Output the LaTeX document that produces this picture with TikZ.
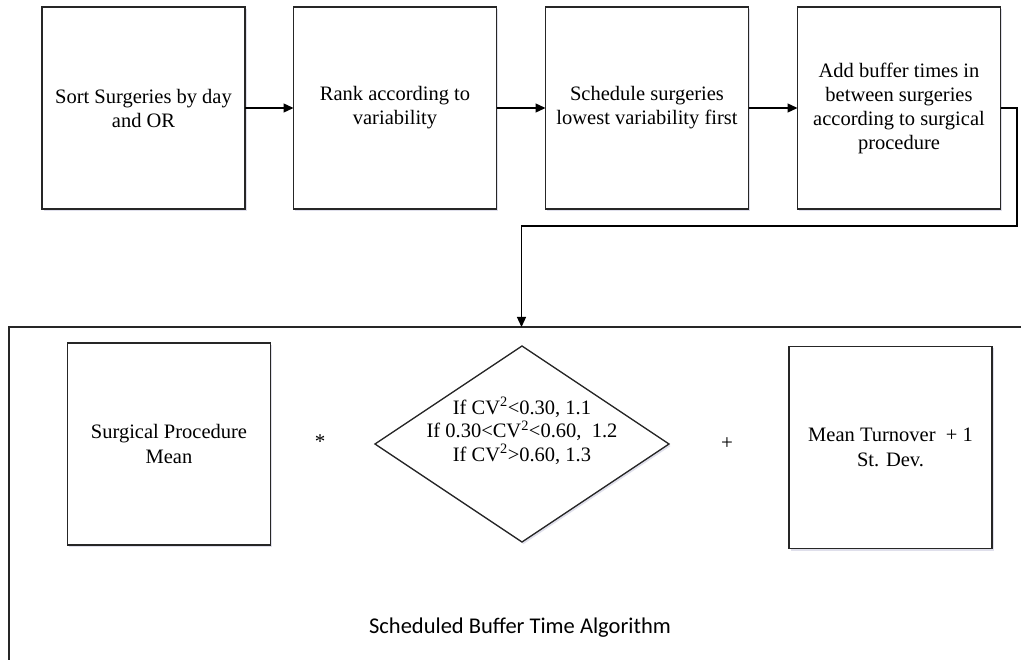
\documentclass[tikz,border=0pt]{standalone}
\usepackage{fontspec}
\setmainfont{Liberation Serif}
\newfontfamily\calib{Carlito}
\usetikzlibrary{shapes.geometric,arrows.meta,shadows}
\begin{document}
\begin{tikzpicture}[x=1pt,y=-1pt,
  every node/.style={inner sep=0pt,outer sep=0pt},
  boxsh/.style={drop shadow={shadow xshift=1.5pt,shadow yshift=-2pt,fill=blue!25!gray,opacity=0.2}},
  stepbox/.style={draw=black!85,line width=1.3pt,fill=white,minimum width=203pt,minimum height=202pt,align=center,font=\fontsize{20.5}{24}\selectfont,boxsh},
  smallbox/.style={draw=black!85,line width=1.3pt,fill=white,minimum width=203pt,minimum height=202pt,align=center,font=\fontsize{20.5}{25.5}\selectfont,boxsh},
  conn/.style={line width=1.3pt,-{Triangle[length=10pt,width=9pt]}},
  optxt/.style={font=\fontsize{21}{24}\selectfont}
]
\useasboundingbox (0,0) rectangle (1021,660);
\fill[white] (0,0) rectangle (1021,660);
\begin{scope}
\clip (0,0) rectangle (1021,660);
\node[draw=black!85,line width=1.3pt,minimum width=1040pt,minimum height=360pt,anchor=north west] (alg) at (9,327) {};
\end{scope}

\node[stepbox] (b1) at (143.5,108) {Sort Surgeries by day\\and OR};
\node[stepbox] (b2) at (395,108) {Rank according to\\variability};
\node[stepbox] (b3) at (647,108) {Schedule surgeries\\lowest variability first};
\node[stepbox] (b4) at (899,108) {Add buffer times in\\between surgeries\\according to surgical\\procedure};

\draw[conn] (b1) -- (b2);
\draw[conn] (b2) -- (b3);
\draw[conn] (b3) -- (b4);
\coordinate (turn) at (1017,226);
\coordinate (entry) at (521.5,327);
\draw[conn] (b4.east) -| (turn) -| (entry);

\node[smallbox] (mean) at (169,444) {Surgical Procedure\\Mean};
\node[optxt] (times) at (320,442) {*};
\node[draw=black!85,line width=1.3pt,fill=white,diamond,minimum width=294pt,minimum height=196pt,boxsh] (dia) at (522,444) {};
\node[align=center,font=\fontsize{20.5}{23.5}\selectfont] (diatxt) at ([yshift=13pt]dia.center) {If CV\textsuperscript{2}<0.30, 1.1\\If 0.30<CV\textsuperscript{2}<0.60,\ \ 1.2\\If CV\textsuperscript{2}>0.60, 1.3};
\node[optxt] (plus) at (727,444) {+};
\node[smallbox] (turnover) at (890.5,447.5) {Mean Turnover\ \ + 1\\St. Dev.};

\node[font=\calib\fontsize{22.5}{26}\selectfont] (title) at (520,628) {Scheduled Buffer Time Algorithm};
\end{tikzpicture}
\end{document}
